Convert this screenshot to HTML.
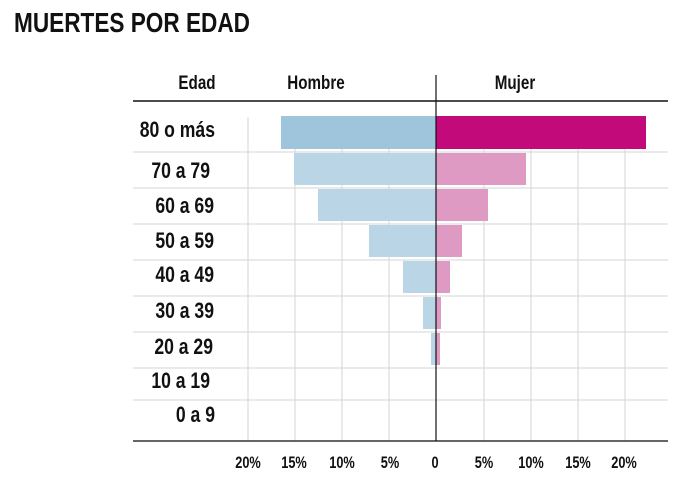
<!DOCTYPE html>
<html><head><meta charset="utf-8"><style>
body{margin:0;background:#fff;}
svg text{font-family:"Liberation Sans",sans-serif;font-weight:bold;fill:#111;}
</style></head><body>
<svg width="700" height="482" viewBox="0 0 700 482" xmlns="http://www.w3.org/2000/svg">
<text x="14" y="32" font-size="28" textLength="236" lengthAdjust="spacingAndGlyphs">MUERTES POR EDAD</text>
<g stroke="#d4d4d4" stroke-width="1">
<line x1="248" y1="117" x2="248" y2="441"/>
<line x1="295" y1="117" x2="295" y2="441"/>
<line x1="342" y1="117" x2="342" y2="441"/>
<line x1="389" y1="117" x2="389" y2="441"/>
<line x1="484" y1="117" x2="484" y2="441"/>
<line x1="531" y1="117" x2="531" y2="441"/>
<line x1="578" y1="117" x2="578" y2="441"/>
<line x1="625" y1="117" x2="625" y2="441"/>
<line x1="133" y1="152" x2="668" y2="152"/>
<line x1="133" y1="188" x2="668" y2="188"/>
<line x1="133" y1="224" x2="668" y2="224"/>
<line x1="133" y1="260" x2="668" y2="260"/>
<line x1="133" y1="296" x2="668" y2="296"/>
<line x1="133" y1="332" x2="668" y2="332"/>
<line x1="133" y1="368" x2="668" y2="368"/>
<line x1="133" y1="400" x2="668" y2="400"/>
</g>
<rect x="281" y="116" width="155" height="33" fill="#9fc5dc"/>
<rect x="436" y="116" width="210" height="33" fill="#c20a7a"/>
<rect x="294" y="153" width="142" height="32" fill="#bad5e6"/>
<rect x="436" y="153" width="90" height="32" fill="#de9ac3"/>
<rect x="318" y="189" width="118" height="32" fill="#bad5e6"/>
<rect x="436" y="189" width="52" height="32" fill="#de9ac3"/>
<rect x="369" y="225" width="67" height="32" fill="#bad5e6"/>
<rect x="436" y="225" width="26" height="32" fill="#de9ac3"/>
<rect x="403" y="261" width="33" height="32" fill="#bad5e6"/>
<rect x="436" y="261" width="14" height="32" fill="#de9ac3"/>
<rect x="423" y="297" width="13" height="32" fill="#bad5e6"/>
<rect x="436" y="297" width="5" height="32" fill="#de9ac3"/>
<rect x="431" y="333" width="5" height="32" fill="#bad5e6"/>
<rect x="436" y="333" width="4" height="32" fill="#de9ac3"/>
<line x1="133" y1="101" x2="668" y2="101" stroke="#111" stroke-width="1.5"/>
<line x1="133" y1="441" x2="668" y2="441" stroke="#333" stroke-width="1.5"/>
<line x1="436" y1="75" x2="436" y2="441" stroke="#111" stroke-width="1.2"/>
<g font-size="19" text-anchor="middle">
<text x="197" y="89" transform="scale(0.8,1)" transform-origin="197 89">Edad</text>
<text x="316" y="89" transform="scale(0.8,1)" transform-origin="316 89">Hombre</text>
<text x="515" y="89" transform="scale(0.8,1)" transform-origin="515 89">Mujer</text>
</g>
<g font-size="22" text-anchor="end">
<text x="215" y="137" transform="scale(0.8,1)" transform-origin="215 137">80 o más</text>
<text x="210" y="178" transform="scale(0.8,1)" transform-origin="210 178">70 a 79</text>
<text x="214" y="213" transform="scale(0.8,1)" transform-origin="214 213">60 a 69</text>
<text x="214" y="248" transform="scale(0.8,1)" transform-origin="214 248">50 a 59</text>
<text x="214" y="282" transform="scale(0.8,1)" transform-origin="214 282">40 a 49</text>
<text x="214" y="318" transform="scale(0.8,1)" transform-origin="214 318">30 a 39</text>
<text x="213" y="354" transform="scale(0.8,1)" transform-origin="213 354">20 a 29</text>
<text x="210" y="388" transform="scale(0.8,1)" transform-origin="210 388">10 a 19</text>
<text x="215" y="422" transform="scale(0.8,1)" transform-origin="215 422">0 a 9</text>
</g>
<g font-size="17" text-anchor="middle">
<text x="248" y="468" transform="scale(0.75,1)" transform-origin="248 468">20%</text>
<text x="294" y="468" transform="scale(0.75,1)" transform-origin="294 468">15%</text>
<text x="342" y="468" transform="scale(0.75,1)" transform-origin="342 468">10%</text>
<text x="390" y="468" transform="scale(0.75,1)" transform-origin="390 468">5%</text>
<text x="435" y="468" transform="scale(0.75,1)" transform-origin="435 468">0</text>
<text x="484" y="468" transform="scale(0.75,1)" transform-origin="484 468">5%</text>
<text x="531" y="468" transform="scale(0.75,1)" transform-origin="531 468">10%</text>
<text x="578" y="468" transform="scale(0.75,1)" transform-origin="578 468">15%</text>
<text x="624" y="468" transform="scale(0.75,1)" transform-origin="624 468">20%</text>
</g>
</svg>
</body></html>
